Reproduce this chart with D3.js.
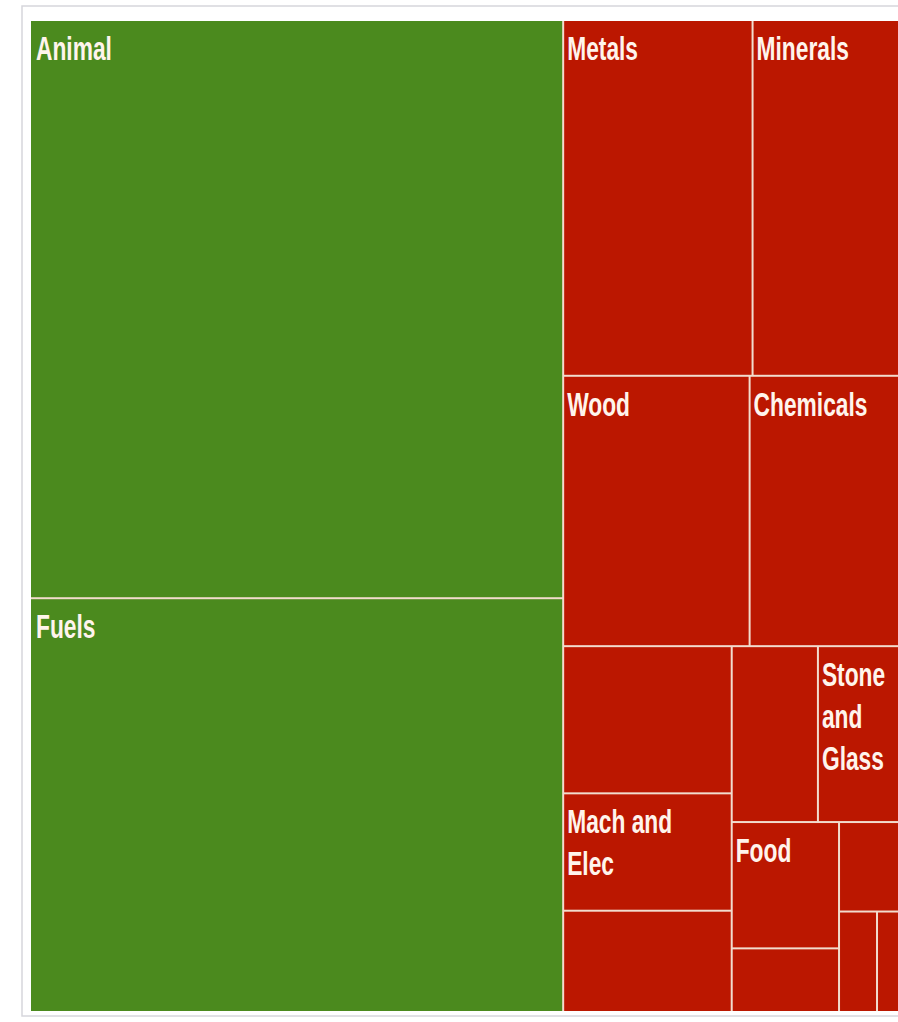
<!DOCTYPE html>
<html>
<head>
<meta charset="utf-8">
<script src="https://cdn.jsdelivr.net/npm/d3@7"></script>
<style>
  html, body { margin: 0; padding: 0; background: #ffffff; }
  svg { display: block; }
</style>
</head>
<body>
<svg id="chart" width="898" height="1022"></svg>
<script>
// ---- data ----
const ids        = ["animal","fuels","metals","minerals","wood","chemicals","u1","mach","u3","u4","stone","food","u5","u6","u7","u8"];
const categories = ["Animal","Fuels","Metals","Minerals","Wood","Chemicals","","Mach and Elec","","","Stone and Glass","Food","","","",""];
const values     = [3070, 2197, 671, 533, 502, 413, 247, 197, 170, 151, 149, 135, 68, 57, 38, 26];
const trend      = ["up","up","down","down","down","down","down","down","down","down","down","down","down","down","down","down"];
const parents    = ["G","G","R1","R1","R2","R2","R3a","R3a","R3a","R3b1","R3b1","R3b2a","R3b2a","R3b2b","R3b2b2","R3b2b2"];
const groupIds     = ["root","G","R","R1","R2","R3","R3a","R3b","R3b1","R3b2","R3b2a","R3b2b","R3b2b2"];
const groupParents = ["","root","root","R","R","R","R3","R3","R3b","R3b","R3b2","R3b2","R3b2b"];

// ---- styles ----
const colors = { up: "#4b8a1e", down: "#bb1700" };
const lineColor = "#f2dccd";
const labelColor = "#fff4ec";

const svg = d3.select("#chart");

// frame
const area = { x0: 31, y0: 21, x1: 902, y1: 1011 };
svg.append("rect")
  .attr("x", 22).attr("y", 6)
  .attr("width", 1000).attr("height", 1010)
  .attr("fill", "#ffffff")
  .attr("stroke", "#d6d6dc").attr("stroke-width", 1.5);

// build hierarchy table
const rows = groupIds.map((id, i) => ({ id, parent: groupParents[i] || null, value: 0, leaf: -1 }))
  .concat(ids.map((id, i) => ({ id, parent: parents[i], value: values[i], leaf: i })));

const root = d3.stratify().id(d => d.id).parentId(d => d.parent)(rows);
root.sum(d => d.leaf >= 0 ? d.value : 0);
root.eachAfter(n => {
  n.rank = n.children ? d3.min(n.children, c => c.rank) : n.data.leaf;
});
root.sort((a, b) => a.rank - b.rank);

d3.treemap()
  .tile(d3.treemapSliceDice)
  .size([area.x1 - area.x0, area.y1 - area.y0])
  .paddingInner(2)(root);

const g = svg.append("g").attr("transform", `translate(${area.x0},${area.y0})`);

g.append("rect")
  .attr("x", 0).attr("y", 0)
  .attr("width", area.x1 - area.x0).attr("height", area.y1 - area.y0)
  .attr("fill", lineColor);

const leaves = root.leaves();
const cell = g.selectAll("g.cell").data(leaves).join("g").attr("class", "cell")
  .attr("transform", d => `translate(${d.x0},${d.y0})`);

cell.append("rect")
  .attr("width", d => d.x1 - d.x0)
  .attr("height", d => d.y1 - d.y0)
  .attr("fill", d => colors[trend[d.data.leaf]]);

// labels with word wrapping
const fontSize = 34, scaleX = 0.67, lineH = 42;
cell.each(function(d) {
  const label = categories[d.data.leaf];
  if (!label) return;
  const sel = d3.select(this);
  const maxW = (d.x1 - d.x0) - 10;
  const padX = d.x0 < 1 ? 5 : 3;
  const t = sel.append("text")
    .attr("transform", `translate(${padX},39) scale(${scaleX},1)`)
    .attr("font-family", "'Liberation Sans', Arial, sans-serif")
    .attr("font-weight", "bold")
    .attr("font-size", fontSize)
    .attr("fill", labelColor);
  const words = label.split(" ");
  let lines = [], cur = "";
  const measure = s => {
    const tmp = t.append("tspan").text(s);
    const w = tmp.node().getComputedTextLength() * scaleX;
    tmp.remove();
    return w;
  };
  words.forEach(w => {
    const trial = cur ? cur + " " + w : w;
    if (cur && measure(trial) > maxW) { lines.push(cur); cur = w; }
    else cur = trial;
  });
  if (cur) lines.push(cur);
  lines.forEach((ln, i) => {
    t.append("tspan").attr("x", 0).attr("y", i * lineH).text(ln);
  });
});
</script>
</body>
</html>
